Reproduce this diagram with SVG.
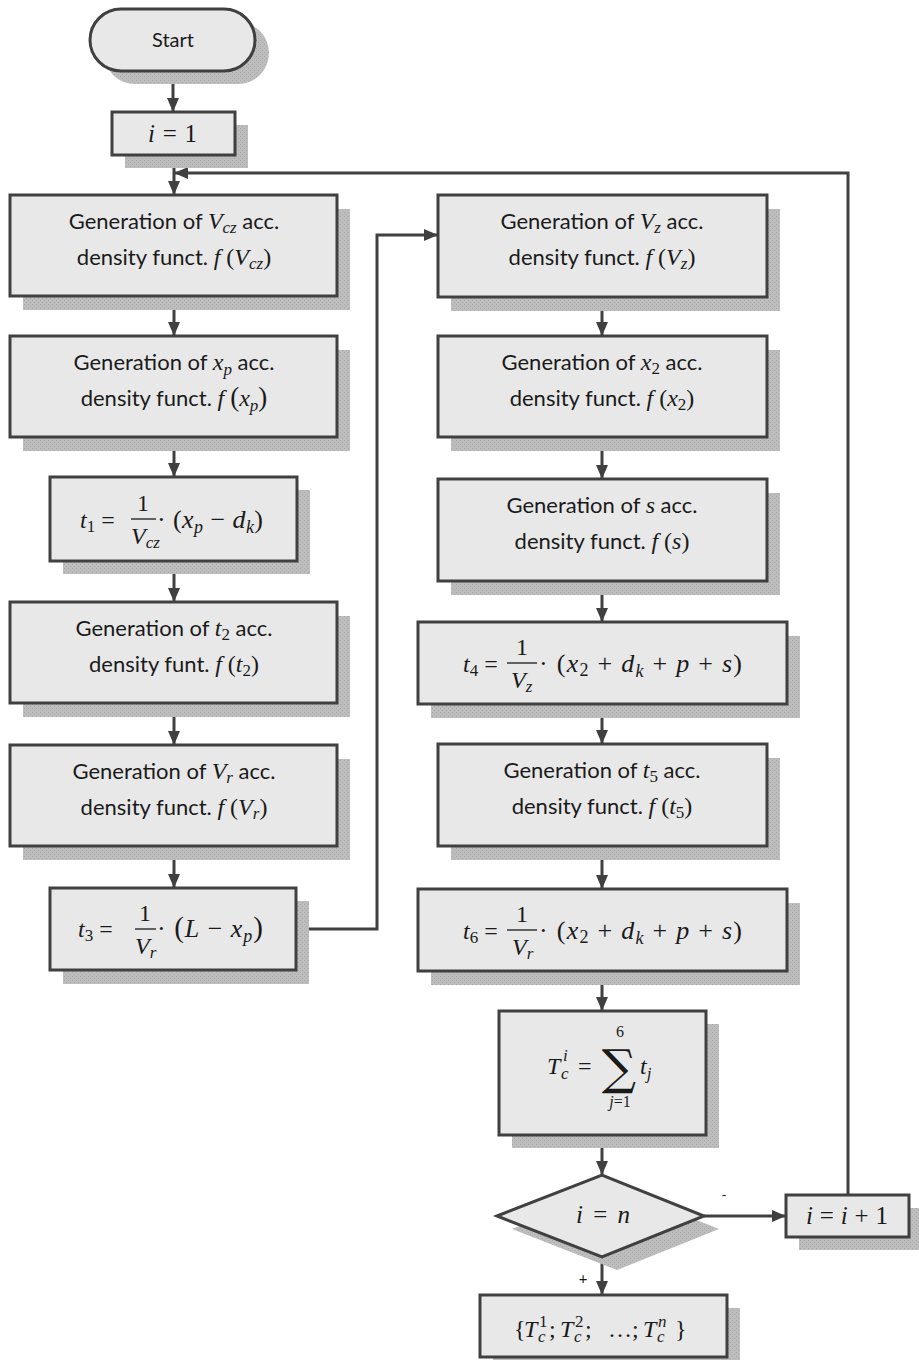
<svg xmlns="http://www.w3.org/2000/svg" width="919" height="1363" viewBox="0 0 919 1363">
<style>
.n{fill:#e8e8e8;stroke:#404040;stroke-width:3}
.sh{fill:url(#hatch)}
.t{font-family:Lato,"Liberation Sans",sans-serif;font-size:22px;fill:#1a1a1a}
.m{font-family:"Liberation Serif",serif;font-style:italic;font-size:24px;fill:#1a1a1a}
.r{font-family:"Liberation Serif",serif;font-style:normal;font-size:24px;fill:#1a1a1a}
.s{font-family:"Liberation Serif",serif;font-style:italic;font-size:17px;fill:#1a1a1a}
.sr{font-family:"Liberation Serif",serif;font-style:normal;font-size:17px;fill:#1a1a1a}
.c{stroke:#404040;stroke-width:3;fill:none}
.fb{stroke:#1a1a1a;stroke-width:1.3}
.L{font-size:26px}
.L .m{font-size:26px}
.L .s,.L .sr{font-size:18px}
</style>
<defs>
<pattern id="hatch" width="4" height="4" patternUnits="userSpaceOnUse">
<rect width="4" height="4" fill="#bdbdbd"/>
<rect width="1" height="1" fill="#aaaaaa"/>
<rect x="2" y="2" width="1" height="1" fill="#aaaaaa"/>
</pattern>
<marker id="ar" markerWidth="14" markerHeight="12" refX="13" refY="6" orient="auto" markerUnits="userSpaceOnUse">
<path d="M0,0 L14,6 L0,12 Z" fill="#404040"/>
</marker>
</defs>
<rect width="919" height="1363" fill="#ffffff"/>

<g id="connectors">
<line class="c" x1="173" y1="71" x2="173" y2="111" marker-end="url(#ar)"/>
<line class="c" x1="174" y1="156" x2="174" y2="194" marker-end="url(#ar)"/>
<line class="c" x1="174" y1="297" x2="174" y2="335" marker-end="url(#ar)"/>
<line class="c" x1="174" y1="438" x2="174" y2="476" marker-end="url(#ar)"/>
<line class="c" x1="174" y1="562" x2="174" y2="601" marker-end="url(#ar)"/>
<line class="c" x1="174" y1="704" x2="174" y2="744" marker-end="url(#ar)"/>
<line class="c" x1="174" y1="847" x2="174" y2="887" marker-end="url(#ar)"/>
<polyline class="c" points="297,929 377,929 377,235 437,235" marker-end="url(#ar)"/>
<line class="c" x1="602" y1="298" x2="602" y2="335" marker-end="url(#ar)"/>
<line class="c" x1="602" y1="438" x2="602" y2="478" marker-end="url(#ar)"/>
<line class="c" x1="602" y1="582" x2="602" y2="621" marker-end="url(#ar)"/>
<line class="c" x1="602" y1="705" x2="602" y2="743" marker-end="url(#ar)"/>
<line class="c" x1="602" y1="847" x2="602" y2="888" marker-end="url(#ar)"/>
<line class="c" x1="602" y1="971" x2="602" y2="1010" marker-end="url(#ar)"/>
<line class="c" x1="602" y1="1136" x2="602" y2="1174" marker-end="url(#ar)"/>
<line class="c" x1="602" y1="1258" x2="602" y2="1294" marker-end="url(#ar)"/>
<line class="c" x1="704" y1="1216" x2="785" y2="1216" marker-end="url(#ar)"/>
<polyline class="c" points="848,1194 848,173 175,173" marker-end="url(#ar)"/>
<text class="t" x="724" y="1200" text-anchor="middle" style="font-size:14px">-</text>
<text class="t" x="583" y="1284" text-anchor="middle" style="font-size:15px">+</text>
</g>

<g id="start">
<rect class="sh" x="104" y="22" width="165" height="62" rx="31"/>
<rect class="n" x="90" y="9" width="165" height="62" rx="31"/>
<text class="t" x="173" y="47" text-anchor="middle" style="font-size:20px">Start</text>
</g>

<g id="init">
<rect class="sh" x="125" y="125" width="123" height="43"/>
<rect class="n" x="112" y="112" width="123" height="43"/>
<text class="m" x="148" y="142" textLength="49" lengthAdjust="spacing" style="font-size:25px">i <tspan class="r" style="font-size:25px">= 1</tspan></text>
</g>

<g id="gen-vcz">
<rect class="sh" x="23" y="209" width="327" height="101"/>
<rect class="n" x="10" y="195" width="327" height="101"/>
<text class="t" x="174" y="229" text-anchor="middle">Generation of <tspan class="m">V</tspan><tspan class="s" dy="4">cz</tspan><tspan dy="-4"> acc.</tspan></text>
<text class="t" x="174" y="265" text-anchor="middle">density funct. <tspan class="m">f </tspan><tspan class="r">(</tspan><tspan class="m">V</tspan><tspan class="s" dy="4">cz</tspan><tspan class="r" dy="-4">)</tspan></text>
</g>

<g id="gen-xp">
<rect class="sh" x="23" y="350" width="327" height="101"/>
<rect class="n" x="10" y="336" width="327" height="101"/>
<text class="t" x="174" y="370" text-anchor="middle">Generation of <tspan class="m">x</tspan><tspan class="s" dy="5">p</tspan><tspan dy="-5"> acc.</tspan></text>
<text class="t" x="174" y="406" text-anchor="middle">density funct. <tspan class="m">f </tspan><tspan class="r" style="font-size:27px">(</tspan><tspan class="m">x</tspan><tspan class="s" dy="5">p</tspan><tspan class="r" style="font-size:27px" dy="-5">)</tspan></text>
</g>

<g id="calc-t1">
<rect class="sh" x="63" y="490" width="247" height="84"/>
<rect class="n" x="50" y="477" width="247" height="84"/>
<text class="m" x="80" y="528">t<tspan class="sr" dy="4">1</tspan><tspan class="r" dy="-4"> =</tspan></text>
<text class="r" x="143" y="511" text-anchor="middle">1</text>
<line class="fb" x1="131" y1="519" x2="156" y2="519"/>
<text class="m" x="131" y="544">V<tspan class="s" dy="4">cz</tspan></text>
<text class="r L" x="157" y="528" textLength="106" lengthAdjust="spacing">· (<tspan class="m">x</tspan><tspan class="s" dy="5">p</tspan><tspan dy="-5"> − </tspan><tspan class="m">d</tspan><tspan class="s" dy="5">k</tspan><tspan dy="-5">)</tspan></text>
</g>

<g id="gen-t2">
<rect class="sh" x="23" y="616" width="327" height="101"/>
<rect class="n" x="10" y="602" width="327" height="101"/>
<text class="t" x="174" y="636" text-anchor="middle">Generation of <tspan class="m">t</tspan><tspan class="sr" dy="4">2</tspan><tspan dy="-4"> acc.</tspan></text>
<text class="t" x="174" y="672" text-anchor="middle">density funt. <tspan class="m">f </tspan><tspan class="r">(</tspan><tspan class="m">t</tspan><tspan class="sr" dy="4">2</tspan><tspan class="r" dy="-4">)</tspan></text>
</g>

<g id="gen-vr">
<rect class="sh" x="23" y="759" width="327" height="101"/>
<rect class="n" x="10" y="745" width="327" height="101"/>
<text class="t" x="174" y="779" text-anchor="middle">Generation of <tspan class="m">V</tspan><tspan class="s" dy="4">r</tspan><tspan dy="-4"> acc.</tspan></text>
<text class="t" x="174" y="815" text-anchor="middle">density funct. <tspan class="m">f </tspan><tspan class="r">(</tspan><tspan class="m">V</tspan><tspan class="s" dy="4">r</tspan><tspan class="r" dy="-4">)</tspan></text>
</g>

<g id="calc-t3">
<rect class="sh" x="63" y="901" width="246" height="83"/>
<rect class="n" x="50" y="888" width="246" height="82"/>
<text class="m" x="78" y="937">t<tspan class="sr" dy="4">3</tspan><tspan class="r" dy="-4"> =</tspan></text>
<text class="r" x="145" y="921" text-anchor="middle">1</text>
<line class="fb" x1="135" y1="929" x2="156" y2="929"/>
<text class="m" x="135" y="954">V<tspan class="s" dy="4">r</tspan></text>
<text class="r L" x="157" y="937" textLength="106" lengthAdjust="spacing">· <tspan style="font-size:29px">(</tspan><tspan class="m">L</tspan> − <tspan class="m">x</tspan><tspan class="s" dy="5">p</tspan><tspan dy="-5" style="font-size:29px">)</tspan></text>
</g>

<g id="gen-vz">
<rect class="sh" x="451" y="209" width="329" height="102"/>
<rect class="n" x="438" y="195" width="329" height="102"/>
<text class="t" x="602" y="229" text-anchor="middle">Generation of <tspan class="m">V</tspan><tspan class="s" dy="4">z</tspan><tspan dy="-4"> acc.</tspan></text>
<text class="t" x="602" y="265" text-anchor="middle">density funct. <tspan class="m">f </tspan><tspan class="r">(</tspan><tspan class="m">V</tspan><tspan class="s" dy="4">z</tspan><tspan class="r" dy="-4">)</tspan></text>
</g>

<g id="gen-x2">
<rect class="sh" x="451" y="350" width="329" height="101"/>
<rect class="n" x="438" y="336" width="329" height="101"/>
<text class="t" x="602" y="370" text-anchor="middle">Generation of <tspan class="m">x</tspan><tspan class="sr" dy="4">2</tspan><tspan dy="-4"> acc.</tspan></text>
<text class="t" x="602" y="406" text-anchor="middle">density funct. <tspan class="m">f </tspan><tspan class="r">(</tspan><tspan class="m">x</tspan><tspan class="sr" dy="4">2</tspan><tspan class="r" dy="-4">)</tspan></text>
</g>

<g id="gen-s">
<rect class="sh" x="451" y="493" width="329" height="102"/>
<rect class="n" x="438" y="479" width="329" height="102"/>
<text class="t" x="602" y="513" text-anchor="middle">Generation of <tspan class="m">s</tspan> acc.</text>
<text class="t" x="602" y="549" text-anchor="middle">density funct. <tspan class="m">f </tspan><tspan class="r">(</tspan><tspan class="m">s</tspan><tspan class="r">)</tspan></text>
</g>

<g id="calc-t4">
<rect class="sh" x="431" y="636" width="369" height="82"/>
<rect class="n" x="418" y="622" width="369" height="82"/>
<text class="m" x="463" y="672">t<tspan class="sr" dy="4">4</tspan><tspan class="r" dy="-4"> =</tspan></text>
<text class="r" x="522" y="655" text-anchor="middle">1</text>
<line class="fb" x1="507" y1="663" x2="537" y2="663"/>
<text class="m" x="511" y="688">V<tspan class="s" dy="4">z</tspan></text>
<text class="r L" x="539" y="672" textLength="203" lengthAdjust="spacing">· (<tspan class="m">x</tspan><tspan class="sr" dy="4">2</tspan><tspan dy="-4"> + </tspan><tspan class="m">d</tspan><tspan class="s" dy="5">k</tspan><tspan dy="-5"> + </tspan><tspan class="m">p</tspan> + <tspan class="m">s</tspan>)</text>
</g>

<g id="gen-t5">
<rect class="sh" x="451" y="758" width="329" height="102"/>
<rect class="n" x="438" y="744" width="329" height="102"/>
<text class="t" x="602" y="778" text-anchor="middle">Generation of <tspan class="m">t</tspan><tspan class="sr" dy="4">5</tspan><tspan dy="-4"> acc.</tspan></text>
<text class="t" x="602" y="814" text-anchor="middle">density funct. <tspan class="m">f </tspan><tspan class="r">(</tspan><tspan class="m">t</tspan><tspan class="sr" dy="4">5</tspan><tspan class="r" dy="-4">)</tspan></text>
</g>

<g id="calc-t6">
<rect class="sh" x="431" y="903" width="369" height="82"/>
<rect class="n" x="418" y="889" width="369" height="82"/>
<text class="m" x="463" y="939">t<tspan class="sr" dy="4">6</tspan><tspan class="r" dy="-4"> =</tspan></text>
<text class="r" x="522" y="922" text-anchor="middle">1</text>
<line class="fb" x1="507" y1="930" x2="537" y2="930"/>
<text class="m" x="512" y="955">V<tspan class="s" dy="4">r</tspan></text>
<text class="r L" x="539" y="939" textLength="203" lengthAdjust="spacing">· (<tspan class="m">x</tspan><tspan class="sr" dy="4">2</tspan><tspan dy="-4"> + </tspan><tspan class="m">d</tspan><tspan class="s" dy="5">k</tspan><tspan dy="-5"> + </tspan><tspan class="m">p</tspan> + <tspan class="m">s</tspan>)</text>
</g>

<g id="sum">
<rect class="sh" x="512" y="1024" width="207" height="124"/>
<rect class="n" x="499" y="1011" width="207" height="124"/>
<text class="m" x="547" y="1074">T</text>
<text class="s" x="561" y="1079">c</text>
<text class="s" x="563" y="1061">i</text>
<text class="r" x="578" y="1074">=</text>
<text class="r" x="620" y="1037" text-anchor="middle" style="font-size:16px">6</text>
<text x="619" y="1084" text-anchor="middle" style="font-family:'DejaVu Serif',serif;font-size:48px;fill:#1a1a1a">∑</text>
<text class="s" x="620" y="1107" text-anchor="middle" style="font-size:16px">j<tspan class="sr" style="font-size:16px">=1</tspan></text>
<text class="m" x="640" y="1074">t<tspan class="s" dy="5">j</tspan></text>
</g>

<g id="decision">
<polygon class="sh" points="512,1229 617,1188 719,1229 617,1270"/>
<polygon class="n" points="497,1216 602,1175 704,1216 602,1257"/>
<text class="m" x="576" y="1223" textLength="54" lengthAdjust="spacing" style="font-size:25px">i <tspan class="r" style="font-size:25px">=</tspan> n</text>
</g>

<g id="increment">
<rect class="sh" x="799" y="1208" width="123" height="42"/>
<rect class="n" x="786" y="1195" width="123" height="42"/>
<text class="m" x="806" y="1224" textLength="82" lengthAdjust="spacing" style="font-size:25px">i <tspan class="r" style="font-size:25px">=</tspan> i <tspan class="r" style="font-size:25px">+ 1</tspan></text>
</g>

<g id="result">
<rect class="sh" x="493" y="1308" width="247" height="52"/>
<rect class="n" x="480" y="1295" width="247" height="62"/>
<text class="r" x="514" y="1337">{</text>
<text class="m" x="524" y="1337">T</text>
<text class="s" x="538" y="1342">c</text>
<text class="sr" x="539" y="1327">1</text>
<text class="r" x="549" y="1337">;</text>
<text class="m" x="560" y="1337">T</text>
<text class="s" x="574" y="1342">c</text>
<text class="sr" x="575" y="1327">2</text>
<text class="r" x="585" y="1337">;</text>
<text class="r" x="608" y="1337">…;</text>
<text class="m" x="643" y="1337">T</text>
<text class="s" x="657" y="1342">c</text>
<text class="s" x="658" y="1327">n</text>
<text class="r" x="675" y="1337">}</text>
</g>
</svg>
